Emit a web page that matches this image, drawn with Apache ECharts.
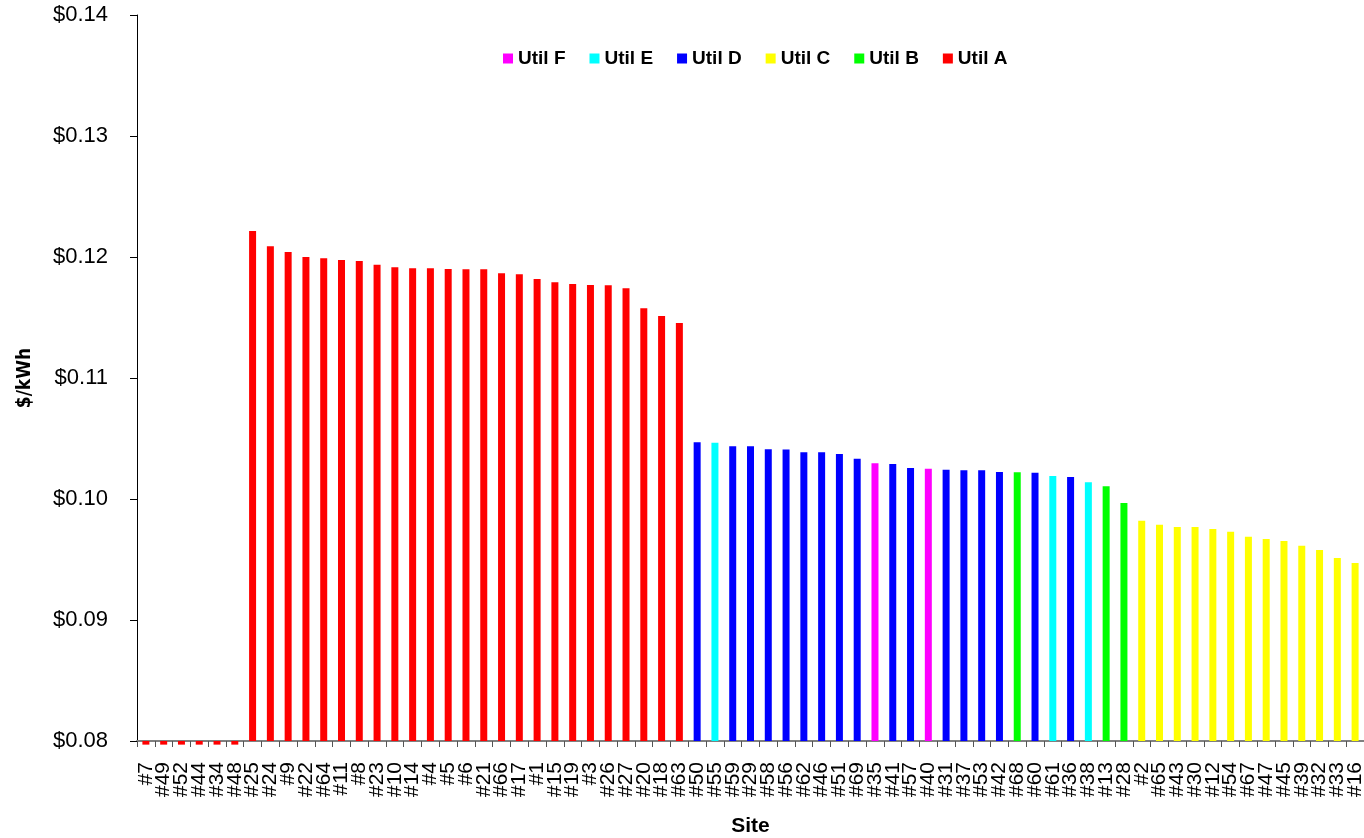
<!DOCTYPE html>
<html>
<head>
<meta charset="utf-8">
<title>Electricity rate by site</title>
<script src="https://cdn.jsdelivr.net/npm/echarts@6/dist/echarts.min.js"></script>
<style>
  html, body { margin: 0; padding: 0; background: #ffffff; }
  #chart { width: 1364px; height: 838px; }
</style>
</head>
<body>
<div id="chart"></div>
<script>
// Sites, sorted by rate within the chart order
const sites = ['#7','#49','#52','#44','#34','#48','#25','#24','#9','#22','#64','#11','#8','#23','#10','#14','#4','#5','#6','#21','#66','#17','#1','#15','#19','#3','#26','#27','#20','#18','#63',
  '#50','#55','#59','#29','#58','#56','#62','#46','#51','#69','#35','#41','#57','#40','#31','#37','#53','#42','#68','#60','#61','#36','#38','#13','#28',
  '#2','#65','#43','#30','#12','#54','#67','#47','#45','#39','#32','#33','#16'];

// Serving utility for each site
const utilities = ['A','A','A','A','A','A','A','A','A','A','A','A','A','A','A','A','A','A','A','A','A','A','A','A','A','A','A','A','A','A','A',
  'D','E','D','D','D','D','D','D','D','D','F','D','D','F','D','D','D','D','B','D','E','D','E','B','B',
  'C','C','C','C','C','C','C','C','C','C','C','C','C'];

// Average rate, $/kWh (first six sites fall below the axis floor)
const rates = [0.0797,0.0797,0.0797,0.0797,0.0797,0.0797,
  0.12215,0.12088,0.12041,0.12000,0.11989,0.11975,0.11967,0.11936,0.11915,0.11906,0.11906,0.11901,0.11898,0.11898,0.11865,0.11857,0.11818,0.11791,0.11777,0.11769,0.11766,0.11741,0.11576,0.11512,0.11455,
  0.10469,0.10465,0.10436,0.10436,0.10411,0.10409,0.10386,0.10386,0.10372,0.10333,0.10295,0.10289,0.10256,0.10250,0.10242,0.10237,0.10237,0.10223,0.10221,0.10217,0.10190,0.10182,0.10138,0.10105,0.09967,
  0.09821,0.09788,0.09769,0.09769,0.09752,0.09730,0.09688,0.09669,0.09653,0.09614,0.09579,0.09512,0.09471];

// Legend order and colours
const utilOrder = ['F','E','D','C','B','A'];
const utilColors = { F: '#FF00FF', E: '#00FFFF', D: '#0000FF', C: '#FFFF00', B: '#00FF00', A: '#FF0000' };

// Y-axis ticks
const yMin = 0.08, yMax = 0.14, yStep = 0.01;

const FONT = "'Liberation Sans', Arial, sans-serif";

const series = utilOrder.map(u => ({
  name: 'Util ' + u,
  type: 'bar',
  barWidth: 7,
  barGap: '-100%',
  clip: false,
  itemStyle: { color: utilColors[u] },
  emphasis: { disabled: true },
  data: rates.map((v, i) => utilities[i] === u ? v : '-')
}));

const chart = echarts.init(document.getElementById('chart'), null, { renderer: 'canvas' });
chart.setOption({
  animation: false,
  backgroundColor: '#ffffff',
  grid: { left: 137, right: 0, top: 15, bottom: 97, containLabel: false, outerBoundsMode: 'none' },
  legend: {
    data: utilOrder.map(u => 'Util ' + u),
    left: 498,
    top: 44,
    icon: 'rect',
    itemWidth: 10,
    itemHeight: 10,
    itemGap: 24,
    textStyle: { fontFamily: FONT, fontSize: 19, fontWeight: 'bold', color: '#000' }
  },
  xAxis: {
    type: 'category',
    data: sites,
    name: 'Site',
    nameLocation: 'middle',
    nameGap: 75,
    nameTextStyle: { fontFamily: FONT, fontSize: 21, fontWeight: 'bold', color: '#000' },
    axisLine: { lineStyle: { color: '#808080', width: 2 } },
    axisTick: { show: true, length: 6, lineStyle: { color: '#555' } },
    axisLabel: { interval: 0, rotate: 90, margin: 21, fontFamily: FONT, fontSize: 21, color: '#000' },
    splitLine: { show: false }
  },
  yAxis: {
    type: 'value',
    min: yMin,
    max: yMax,
    interval: yStep,
    startValue: yMin,
    name: '$/kWh',
    nameLocation: 'middle',
    nameRotate: 90,
    nameGap: 102,
    nameTextStyle: { fontFamily: "'Liberation Sans Narrow', 'DejaVu Sans Condensed', Arial, sans-serif", fontSize: 19, fontWeight: 'bold', color: '#000' },
    axisLine: { show: true, lineStyle: { color: '#000', width: 1 } },
    axisTick: { show: true, length: 7, lineStyle: { color: '#000' } },
    axisLabel: { margin: 29, fontFamily: FONT, fontSize: 22, color: '#000', formatter: v => '$' + v.toFixed(2) },
    splitLine: { show: false }
  },
  series: series
});
</script>
</body>
</html>
